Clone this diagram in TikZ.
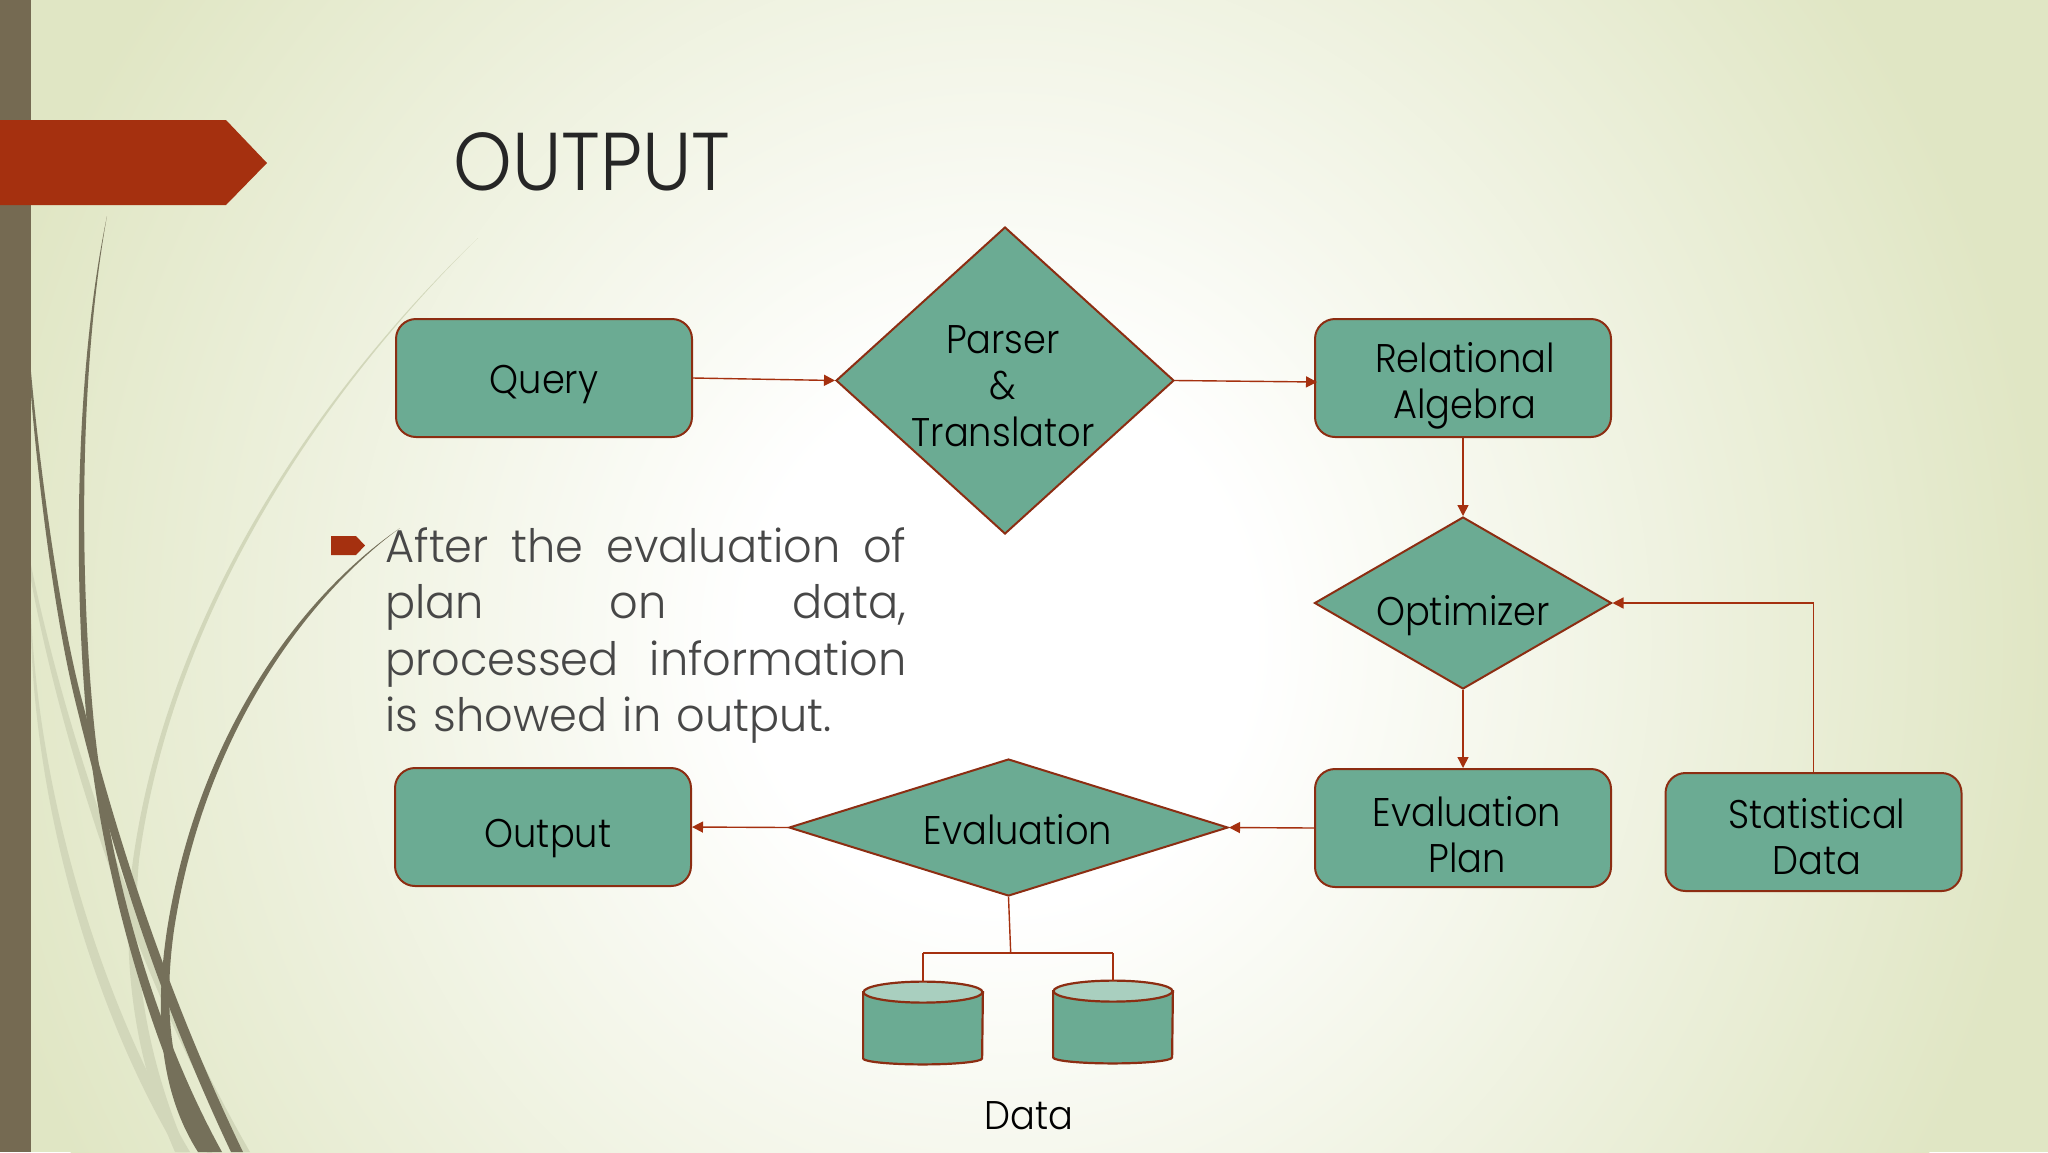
\documentclass[tikz,border=0pt]{standalone}
\usepackage{fontspec}
\setmainfont{Poppins Light}
\newfontfamily\ttlfont{Poppins Light}[FakeStretch=0.91]
\newfontfamily\labfont{Poppins Light}[FakeStretch=0.92]
\newfontfamily\bodyfont{Poppins Light}[FakeStretch=0.97]
\usetikzlibrary{shapes.geometric,arrows.meta,calc}
\definecolor{rust}{HTML}{A5300F}
\definecolor{edgec}{HTML}{8C2D12}
\definecolor{tealf}{HTML}{6BAB93}
\definecolor{teall}{HTML}{A9CFBF}
\definecolor{barc}{HTML}{756A52}
\definecolor{grassd}{HTML}{75705A}
\definecolor{grassl}{HTML}{D2D7BA}
\definecolor{bgout}{HTML}{E0E6C4}
\pgfdeclareradialshading{slidebg}{\pgfpoint{0bp}{0bp}}{color(0bp)=(white); color(6bp)=(white); color(25bp)=(bgout); color(50bp)=(bgout)}
\tikzset{
  boxn/.style={rectangle,rounded corners=10pt,draw=edgec,fill=tealf,line width=1pt,minimum width=148pt,minimum height=59pt,inner sep=0pt},
  dia/.style={diamond,draw=edgec,fill=tealf,line width=1pt,inner sep=0pt},
  lab/.style={font=\labfont\fontsize{20}{23}\selectfont,text=black,align=center,inner sep=0pt},
  conn/.style={draw=rust,line width=.7pt},
  arr/.style={conn,-{Triangle[length=5.5pt,width=5.5pt]}},
  dbbox/.style={rectangle,minimum width=59.5pt,minimum height=41pt,inner sep=0pt},
  dbs/.style={draw=edgec,line width=1.1pt},
}
\newcommand{\dbdraw}[1]{%
  \path[fill=tealf,dbs] ($(#1.north west)+(0,10.5)$) -- ($(#1.south west)+(0,-6)$)
    arc[start angle=180,end angle=0,x radius=59.5,y radius=6]
    -- ($(#1.north east)+(0,10.5)$) -- cycle;
  \path[fill=teall,dbs] ($(#1.north)+(0,10.5)$) ellipse [x radius=59.5,y radius=10.5];
}
\begin{document}
\begin{tikzpicture}[x=.5pt,y=-.5pt]
\useasboundingbox (0,0) rectangle (2048,1152);
\begin{scope}
\clip (0,0) rectangle (2048,1152);
\fill[bgout] (0,0) rectangle (2048,1152);
\path[shading=slidebg] (1000,640) ellipse [x radius=1050,y radius=1100];
% light grass
\fill[grassl] (478,238) .. controls (330,380) and (170,600) .. (133,860) .. controls (120,960) and (135,1060) .. (175,1152) -- (187,1152) .. controls (147,1060) and (130,960) .. (139,860) .. controls (173,604) and (331,382) .. (478,238) -- cycle;
\fill[grassl] (31,565) .. controls (65,730) and (140,960) .. (250,1152) -- (238,1152) .. controls (130,965) and (60,735) .. (31,580) -- cycle;
\fill[grassl] (31,615) .. controls (40,800) and (100,1000) .. (190,1152) -- (178,1152) .. controls (90,1005) and (36,805) .. (31,635) -- cycle;
% dark grass
\fill[grassd] (107,216) .. controls (77,360) and (72,560) .. (87,724) .. controls (103,880) and (150,1040) .. (207,1152) -- (222,1152) .. controls (158,1036) and (110,880) .. (94,724) .. controls (78,560) and (81,360) .. (107,216) -- cycle;
\fill[grassd] (31,372) .. controls (40,470) and (60,620) .. (83,704) .. controls (120,850) and (170,1000) .. (243,1152) -- (231,1152) .. controls (160,1002) and (112,852) .. (77,708) .. controls (55,622) and (38,480) .. (31,395) -- cycle;
\fill[grassd] (400,528) .. controls (298,598) and (197,738) .. (167,930) .. controls (152,1030) and (165,1100) .. (198,1152) -- (212,1152) .. controls (178,1100) and (160,1030) .. (174,930) .. controls (203,740) and (302,600) .. (400,528) -- cycle;
\fill[barc] (0,0) rectangle (31,1152);
\end{scope}
\fill[rust] (0,120) -- (226,120) -- (267,163) -- (226,205) -- (0,205) -- cycle;
\fill[rust] (331,536) -- (356,536) -- (365,545.5) -- (356,555) -- (331,555) -- cycle;
\node[anchor=west,inner sep=0pt,text=black!85,font=\ttlfont\fontsize{41}{41}\selectfont] (title) at (453,162) {OUTPUT};
\node[anchor=north west,inner sep=0pt,text width=260.5pt,text=black!72,font=\bodyfont\fontsize{23}{28.25}\selectfont,align=left] (body) at (385,527)
 {\makebox[\linewidth][s]{After\hfill the\hfill evaluation\hfill of}\\
  \makebox[\linewidth][s]{plan\hfill on\hfill data,}\\
  \makebox[\linewidth][s]{processed\hfill information}\\
  is showed in output.};
% shapes
\node[boxn] (query) at (544,378) {};
\node[dia,minimum width=169pt,minimum height=153.5pt] (parser) at (1005,380.5) {};
\node[boxn] (rel) at (1463,378) {};
\node[dia,minimum width=148.5pt,minimum height=86pt] (opt) at (1463,603) {};
\node[boxn] (plan) at (1463,828) {};
\node[boxn] (stat) at (1813.5,832) {};
\node[dia,minimum width=219.5pt,minimum height=68.5pt] (eval) at (1008.5,827.5) {};
\node[boxn] (output) at (543,827) {};
\node[dbbox] (db1) at (923,1023) {};
\node[dbbox] (db2) at (1113,1022) {};
\dbdraw{db1}
\dbdraw{db2}
% labels
\node[lab] (tq) at (544,384) {Query};
\node[lab] (tp) at (1003,386) {Parser\\[.3pt]\&\\[.3pt]Translator};
\node[lab] (tr) at (1465,386) {Relational\\Algebra};
\node[lab] (to) at (1463,616) {Optimizer};
\node[lab] (tpl) at (1467,835) {Evaluation\\Plan};
\node[lab] (ts) at (1817,837) {Statistical\\Data};
\node[lab] (te) at (1018,830) {Evaluation};
\node[lab] (tou) at (548,839) {Output};
\node[lab] (td) at (1029,1116) {Data};
% connectors
\coordinate (rin) at ($(rel.west)+(3,4)$);
\coordinate (jn) at (1010.7,953);
\coordinate (jl) at (923,953);
\coordinate (jr) at (1113,953);
\coordinate (bend) at (1813.5,603);
\draw[arr] (query.east) -- (parser.west);
\draw[arr] (parser.east) -- (rin);
\draw[arr] (rel.south) -- (opt.north);
\draw[arr] (opt.south) -- (plan.north);
\draw[arr] (stat.north) -- (bend) -- (opt.east);
\draw[arr] (plan.west) -- (eval.east);
\draw[arr] (eval.west) -- (output.east);
\draw[conn] (eval.south) -- (jn);
\draw[conn] (jl) -- (jr);
\draw[conn] (jl) -- (db1.north);
\draw[conn] (jr) -- (db2.north);
\end{tikzpicture}
\end{document}
